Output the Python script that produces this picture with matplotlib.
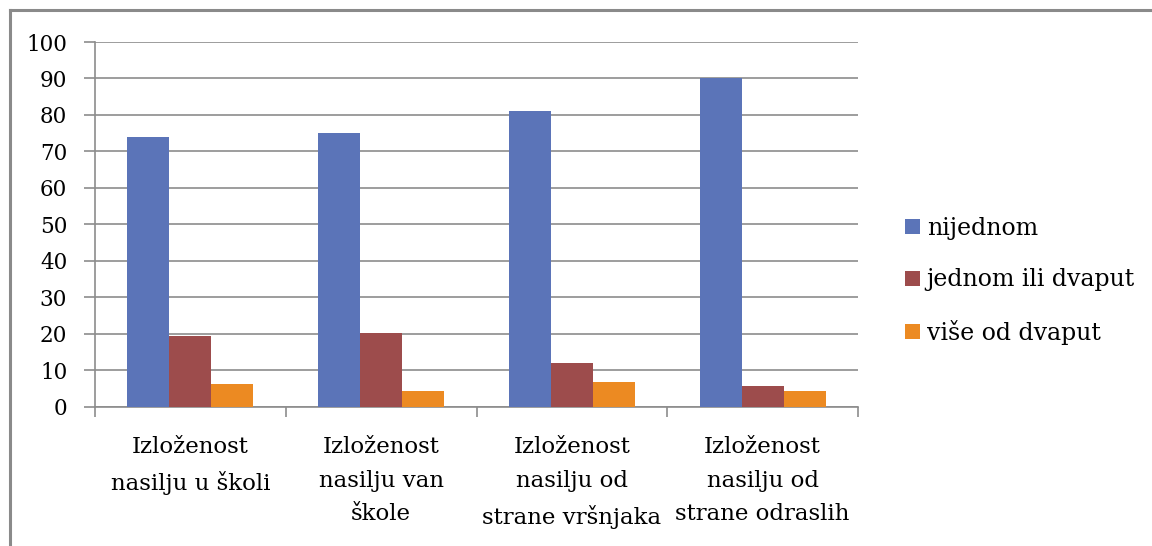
import numpy as np
import matplotlib
matplotlib.use('Agg')
import matplotlib.pyplot as plt
from matplotlib.lines import Line2D

# ── Data ───────────────────────────────────────────────────────────────────
categories = [
    'Izloženost\nnasilju u školi',
    'Izloženost\nnasilju van\nškole',
    'Izloženost\nnasilju od\nstrane vršnjaka',
    'Izloženost\nnasilju od\nstrane odraslih',
]
series_names = ['nijednom', 'jednom ili dvaput', 'više od dvaput']
nijednom = [74, 75, 81, 90]
jednom_ili_dvaput = [19.3, 20.3, 12, 5.6]
vise_od_dvaput = [6.3, 4.2, 6.8, 4.2]
y_ticks = list(range(0, 101, 10))

COLORS = ['#5b74b8', '#9d4c4c', '#ec8a22']
GRID = '#8c8c8c'
FONT = 'DejaVu Serif'

plt.rcParams['font.family'] = FONT

fig = plt.figure(figsize=(11.52, 5.46), dpi=100)
fig.patch.set_facecolor('white')

ax = fig.add_axes([95 / 1152, 1 - 406.5 / 546, (858 - 95) / 1152, (406.5 - 42) / 546])

x = np.arange(len(categories))
width = 0.22
handles = []
for i, (vals, name, col) in enumerate(zip([nijednom, jednom_ili_dvaput, vise_od_dvaput],
                                          series_names, COLORS)):
    b = ax.bar(x + (i - 1) * width, vals, width, color=col, label=name, zorder=3)
    handles.append(b)

ax.set_xlim(-0.5, len(categories) - 0.5)
ax.set_ylim(0, 100)
ax.set_yticks(y_ticks)
ax.set_yticklabels([str(t) for t in y_ticks], fontsize=15.5)
ax.yaxis.grid(True, color=GRID, linewidth=1.2, zorder=0)
ax.tick_params(axis='y', length=8, width=1.2, color=GRID, pad=12)

ax.set_xticks(x)
ax.set_xticklabels(categories, fontsize=16.5, linespacing=1.7)
ax.set_xticks(np.arange(-0.5, len(categories), 1.0), minor=True)
ax.tick_params(axis='x', which='major', length=0, pad=21)
ax.tick_params(axis='x', which='minor', length=7, width=1.2, color=GRID)

for s in ['top', 'right']:
    ax.spines[s].set_visible(False)
for s in ['left', 'bottom']:
    ax.spines[s].set_color(GRID)
    ax.spines[s].set_linewidth(1.2)

leg = fig.legend(handles=handles, labels=series_names, loc='center left',
                 bbox_to_anchor=(896 / 1152, 1 - 281 / 546), frameon=False,
                 fontsize=17, handlelength=0.6, handleheight=0.6,
                 handletextpad=0.3, labelspacing=1.22, borderaxespad=0)

# outer chart border (top and left edges visible in the crop)
fig.add_artist(Line2D([10 / 1152, 10 / 1152], [0, 1 - 10 / 546], color='#8a8a8a', linewidth=2.2))
fig.add_artist(Line2D([10 / 1152, 1], [1 - 10 / 546, 1 - 10 / 546], color='#8a8a8a', linewidth=2.2))

fig.savefig('out.png', dpi=100, facecolor='white')
